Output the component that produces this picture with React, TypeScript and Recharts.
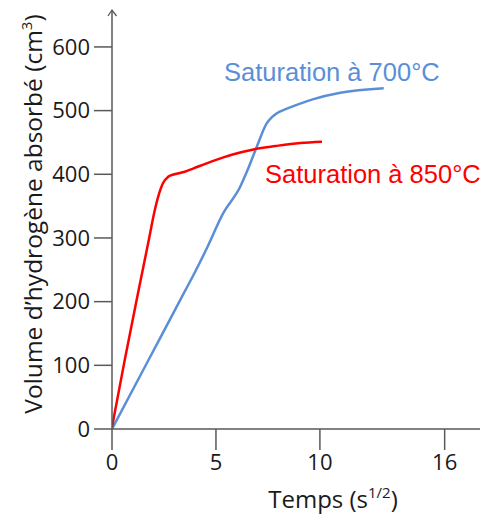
import React from "react";
import {
  LineChart,
  Line,
  XAxis,
  YAxis,
} from "recharts";

// temps (s^1/2) and volume (cm3)
const TIME_850 = [0, 0.61, 1.25, 1.74, 2.06, 2.25, 2.45, 2.7, 3.0, 3.5, 3.9, 4.87, 5.8, 6.8, 8.0, 9.05, 10.1];
const VOL_850 = [3, 108, 213, 292, 344, 368, 386, 396, 400, 404, 409, 421, 431, 439, 445, 449, 451];

const TIME_700 = [0, 1.75, 3.5, 4.0, 4.55, 5.35, 6.16, 6.5, 6.96, 7.44, 7.7, 7.93, 8.41, 9.05, 9.69, 10.98, 13.07];
const VOL_700 = [0, 108, 216, 247, 283, 339, 380, 405, 443, 480, 490, 496, 503, 511, 518, 528, 535];

const X_TICKS = [0, 5, 10, 16];
const Y_TICKS = [0, 100, 200, 300, 400, 500, 600];

const BLUE = "#5a8fd8";
const RED = "#ff0000";
const AXIS = "#595959";
const TICK_FONT = "'Open Sans', 'Liberation Sans', sans-serif";
const NOTE_FONT = "'Liberation Sans', Arial, sans-serif";

const red = TIME_850.map((t, i) => ({ t, v: VOL_850[i] }));
const blue = TIME_700.map((t, i) => ({ t, v: VOL_700[i] }));

export default function App() {
  return (
    <div style={{ position: "absolute", left: 0, top: 0, background: "#fff" }}>
      <LineChart
        width={480}
        height={515}
        margin={{ top: 10, right: 0, bottom: 56, left: 32 }}
      >
        <XAxis
          type="number"
          dataKey="t"
          domain={[0, 17.7]}
          ticks={X_TICKS}
          allowDataOverflow
          height={30}
          tickSize={21}
          tickMargin={4}
          stroke={AXIS}
          strokeWidth={1.5}
          tick={{ fill: "#1a1a1a", fontSize: 22, fontFamily: TICK_FONT }}
        />
        <YAxis
          type="number"
          dataKey="v"
          domain={[0, 658]}
          ticks={Y_TICKS}
          allowDataOverflow
          width={80}
          tickSize={18}
          tickMargin={4}
          stroke={AXIS}
          strokeWidth={1.5}
          tick={{ fill: "#1a1a1a", fontSize: 22, fontFamily: TICK_FONT }}
        />
        <Line
          data={blue}
          dataKey="v"
          type="monotone"
          stroke={BLUE}
          strokeWidth={2.5}
          dot={false}
          isAnimationActive={false}
        />
        <Line
          data={red}
          dataKey="v"
          type="monotone"
          stroke={RED}
          strokeWidth={2.5}
          dot={false}
          isAnimationActive={false}
        />
        <polyline
          points="108,16 112,10 116.5,16"
          fill="none"
          stroke={AXIS}
          strokeWidth={1.3}
        />
        <text x={224} y={81} fill={BLUE} fontSize={25.5} fontFamily={NOTE_FONT}>
          Saturation à 700°C
        </text>
        <text x={265} y={183} fill={RED} fontSize={25.5} fontFamily={NOTE_FONT}>
          Saturation à 850°C
        </text>
        <text
          x={333}
          y={508}
          textAnchor="middle"
          fill="#1a1a1a"
          fontSize={24}
          fontFamily={TICK_FONT}
        >
          Temps (s
          <tspan fontSize={15} dy={-10}>1/2</tspan>
          <tspan dy={10}>)</tspan>
        </text>
        <text
          transform="translate(42,214) rotate(-90)"
          textAnchor="middle"
          fill="#1a1a1a"
          fontSize={24.5}
          fontFamily={TICK_FONT}
        >
          Volume d’hydrogène absorbé (cm
          <tspan fontSize={15} dy={-10}>3</tspan>
          <tspan dy={10}>)</tspan>
        </text>
      </LineChart>
    </div>
  );
}
